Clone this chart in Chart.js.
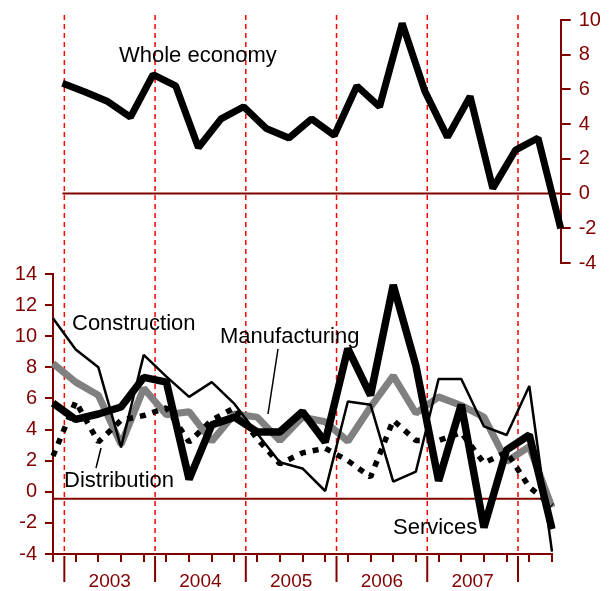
<!DOCTYPE html>
<html>
<head>
<meta charset="UTF-8">
<title>Whole economy and sectors</title>
<script src="https://cdn.jsdelivr.net/npm/chart.js"></script>
<style>
  body { margin: 0; background: #fff; }
  #wrap { position: relative; width: 613px; height: 591px; }
  #wrap canvas { position: absolute; left: 0; top: 0; }
</style>
</head>
<body>
<div id="wrap">
  <canvas id="sectorChart" width="613" height="591"></canvas>
  <canvas id="wholeChart" width="613" height="591"></canvas>
</div>
<script>
const quarters = [
  '2002 Q4',
  '2003 Q1', '2003 Q2', '2003 Q3', '2003 Q4',
  '2004 Q1', '2004 Q2', '2004 Q3', '2004 Q4',
  '2005 Q1', '2005 Q2', '2005 Q3', '2005 Q4',
  '2006 Q1', '2006 Q2', '2006 Q3', '2006 Q4',
  '2007 Q1', '2007 Q2', '2007 Q3', '2007 Q4',
  '2008 Q1', '2008 Q2'
];
const years = ['2003', '2004', '2005', '2006', '2007'];

const wholeEconomy  = [6.35, 5.85, 5.3, 4.4, 6.85, 6.2, 2.65, 4.3, 5.0, 3.75, 3.2, 4.3, 3.35, 6.2, 5.0, 9.8, 5.9, 3.25, 5.6, 0.3, 2.5, 3.2, -2.0];
const construction  = [11.15, 9.15, 8.0, 2.85, 8.8, 7.4, 6.1, 7.05, 5.65, 3.75, 1.9, 1.5, 0.05, 5.8, 5.6, 0.65, 1.3, 7.25, 7.25, 4.2, 3.65, 6.8, -3.85];
const services      = [5.7, 4.65, 5.0, 5.45, 7.35, 7.05, 0.8, 4.3, 4.8, 3.85, 3.85, 5.15, 3.2, 9.2, 6.2, 13.3, 8.1, 0.7, 5.6, -2.3, 2.7, 3.65, -2.4];
const manufacturing = [8.25, 7.05, 6.2, 3.05, 6.65, 4.95, 5.15, 3.25, 5.0, 4.8, 3.3, 4.8, 4.5, 3.25, 5.45, 7.45, 5.05, 6.1, 5.55, 4.8, 1.95, 2.9, -1.0];
const distribution  = [2.3, 5.8, 3.2, 4.6, 4.9, 5.4, 3.2, 4.6, 5.4, 3.4, 1.8, 2.5, 2.8, 2.0, 0.95, 4.6, 3.3, 3.3, 3.8, 1.85, 2.55, 0.3, -0.9];

const wholeTicks  = [-4, -2, 0, 2, 4, 6, 8, 10];
const sectorTicks = [-4, -2, 0, 2, 4, 6, 8, 10, 12, 14];
const sectorBaseline = -0.45;

const darkRed = '#800000';
const textFont = '22px "Liberation Sans", Arial, sans-serif';
Chart.defaults.font.family = '"Liberation Sans", Arial, sans-serif';

// quarter index halfway between Q4 and Q1
function yearBreaks() {
  const out = [];
  quarters.forEach((q, i) => { if (q.endsWith('Q1') && i > 0) out.push(i - 0.5); });
  return out;
}
function yearCentre(yr) {
  const idx = [];
  quarters.forEach((q, i) => { if (q.startsWith(yr)) idx.push(i); });
  return (idx[0] + idx[idx.length - 1]) / 2;
}

function lineSet(label, data, color, width, dash) {
  return {
    label, data,
    borderColor: color, borderWidth: width,
    borderDash: dash || [],
    borderJoinStyle: 'bevel', borderCapStyle: 'butt',
    pointRadius: 0, tension: 0, fill: false
  };
}

function valueAxis(position, ticks, width) {
  return {
    type: 'linear', position,
    min: ticks[0], max: ticks[ticks.length - 1],
    afterBuildTicks: s => { s.ticks = ticks.map(v => ({ value: v })); },
    afterFit: s => { s.width = width; },
    grid: { drawOnChartArea: false, drawTicks: true, tickLength: position === 'right' ? 10 : 8, color: darkRed, lineWidth: 2 },
    border: { display: true, color: darkRed, width: 2 },
    ticks: { color: darkRed, padding: 8, font: { size: 20 } }
  };
}

const sectorDecor = {
  id: 'sectorDecor',
  beforeDatasetsDraw(chart) {
    const { ctx, chartArea, scales: { x, y } } = chart;
    ctx.save();
    ctx.strokeStyle = '#ff0000';
    ctx.lineWidth = 1.5;
    ctx.setLineDash([5, 4]);
    yearBreaks().forEach(v => {
      const px = x.getPixelForValue(v);
      ctx.beginPath();
      ctx.moveTo(px, 15);
      ctx.lineTo(px, chartArea.bottom);
      ctx.stroke();
    });
    ctx.setLineDash([]);
    ctx.strokeStyle = darkRed;
    ctx.lineWidth = 2;
    const by = y.getPixelForValue(sectorBaseline);
    ctx.beginPath();
    ctx.moveTo(chartArea.left, by);
    ctx.lineTo(chartArea.right, by);
    ctx.stroke();
    ctx.restore();
  },
  afterDraw(chart) {
    const { ctx, chartArea, scales: { x } } = chart;
    ctx.save();
    // long ticks at the year breaks and the year names
    ctx.strokeStyle = darkRed;
    ctx.lineWidth = 2;
    yearBreaks().forEach(v => {
      const px = x.getPixelForValue(v);
      ctx.beginPath();
      ctx.moveTo(px, chartArea.bottom + 2);
      ctx.lineTo(px, chartArea.bottom + 28);
      ctx.stroke();
    });
    ctx.fillStyle = darkRed;
    ctx.font = '19px "Liberation Sans", Arial, sans-serif';
    ctx.textAlign = 'center';
    ctx.textBaseline = 'middle';
    years.forEach(yr => ctx.fillText(yr, x.getPixelForValue(yearCentre(yr)), chartArea.bottom + 28));

    // series names
    ctx.fillStyle = '#000';
    ctx.font = textFont;
    ctx.textAlign = 'left';
    ctx.textBaseline = 'alphabetic';
    ctx.fillText('Construction', 72, 330);
    ctx.fillText('Manufacturing', 220, 343);
    ctx.fillText('Distribution', 64, 487);
    ctx.fillText('Services', 393, 534);
    ctx.strokeStyle = '#000';
    ctx.lineWidth = 1.5;
    ctx.beginPath();
    ctx.moveTo(278, 349); ctx.lineTo(268, 414);
    ctx.moveTo(101, 448); ctx.lineTo(96, 468);
    ctx.stroke();
    ctx.restore();
  }
};

const wholeDecor = {
  id: 'wholeDecor',
  beforeDatasetsDraw(chart) {
    const { ctx, chartArea, scales: { y } } = chart;
    ctx.save();
    ctx.strokeStyle = darkRed;
    ctx.lineWidth = 2;
    const zy = y.getPixelForValue(0);
    ctx.beginPath();
    ctx.moveTo(chartArea.left, zy);
    ctx.lineTo(chartArea.right, zy);
    ctx.stroke();
    ctx.restore();
  },
  afterDraw(chart) {
    const { ctx } = chart;
    ctx.save();
    ctx.fillStyle = '#000';
    ctx.font = textFont;
    ctx.fillText('Whole economy', 119, 62);
    ctx.restore();
  }
};

const common = {
  responsive: false,
  animation: false,
  events: [],
  plugins: { legend: { display: false }, tooltip: { enabled: false } }
};

new Chart(document.getElementById('sectorChart'), {
  type: 'line',
  data: {
    labels: quarters,
    datasets: [
      lineSet('Construction', construction, '#000', 2.5),
      lineSet('Services', services, '#000', 7.5),
      lineSet('Distribution', distribution, '#000', 5.5, [6, 7]),
      lineSet('Manufacturing', manufacturing, '#808080', 7)
    ]
  },
  options: {
    ...common,
    layout: { padding: { top: 274, left: 0, right: 61, bottom: 0 } },
    scales: {
      x: {
        type: 'category',
        offset: false,
        afterFit: s => { s.height = 37; },
        grid: { drawOnChartArea: false, drawTicks: true, tickLength: 8, color: darkRed, lineWidth: 2, offset: false },
        border: { display: true, color: darkRed, width: 2 },
        ticks: { display: false }
      },
      y: valueAxis('left', sectorTicks, 53)
    }
  },
  plugins: [sectorDecor]
});

new Chart(document.getElementById('wholeChart'), {
  type: 'line',
  data: {
    labels: quarters,
    datasets: [lineSet('Whole economy', wholeEconomy, '#000', 7)]
  },
  options: {
    ...common,
    layout: { padding: { top: 14, left: 62.5, right: 0, bottom: 328 } },
    scales: {
      x: { type: 'category', offset: false, display: false },
      y: valueAxis('right', wholeTicks, 52.3)
    }
  },
  plugins: [wholeDecor]
});
</script>
</body>
</html>
